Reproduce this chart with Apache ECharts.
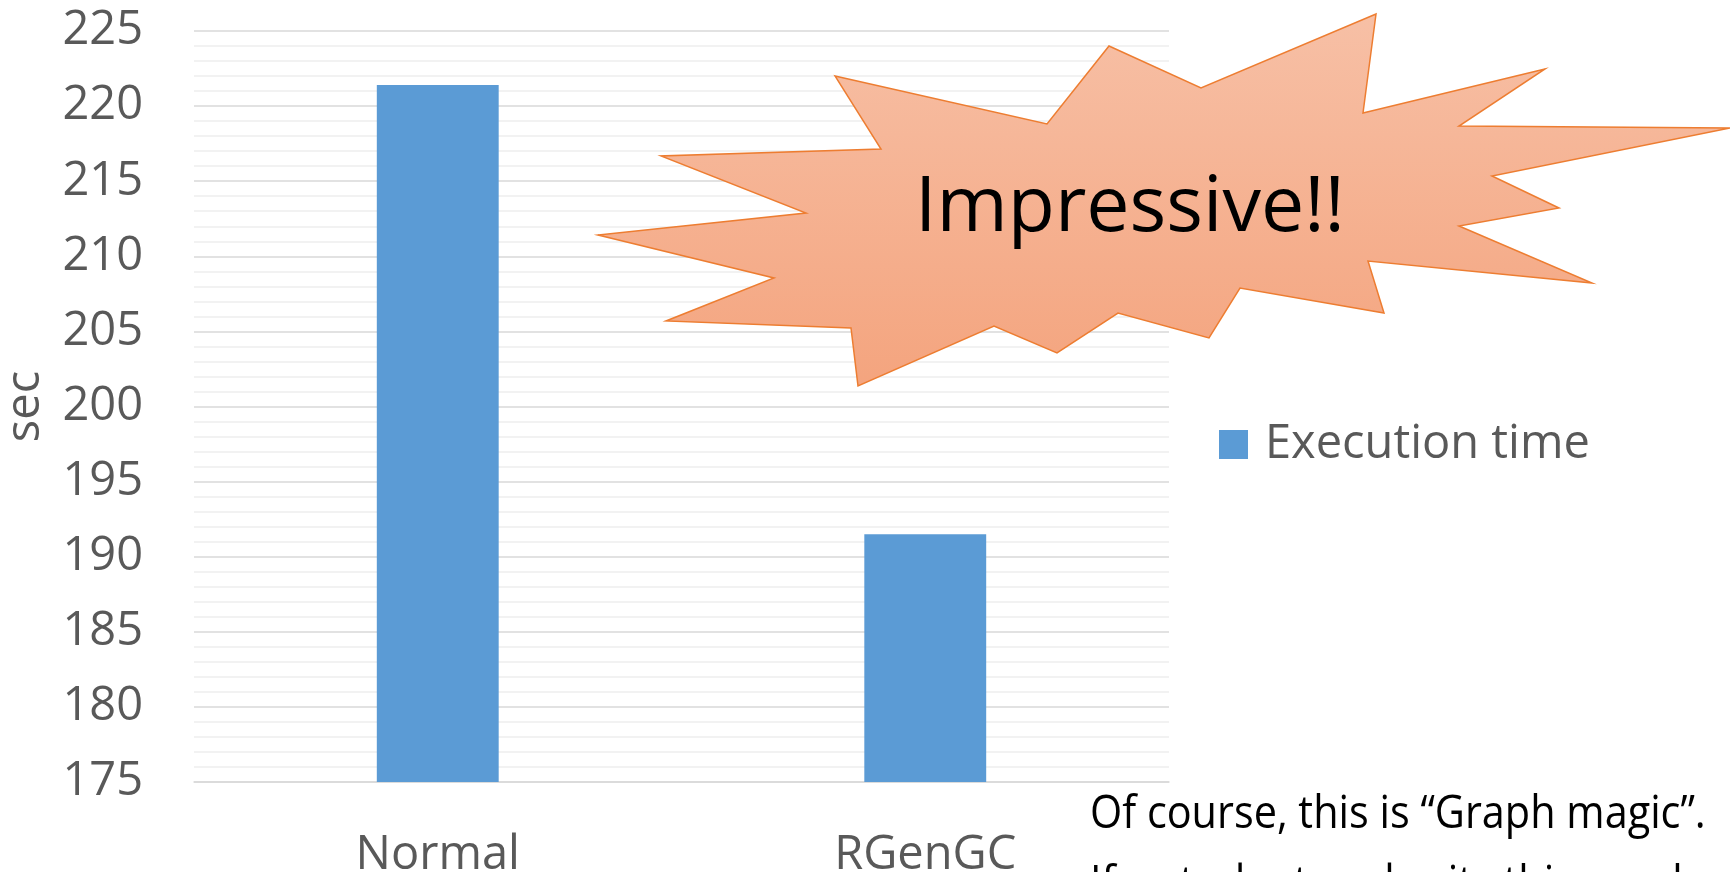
<!DOCTYPE html>
<html>
<head>
<meta charset="utf-8">
<script src="https://cdn.jsdelivr.net/npm/echarts@6/dist/echarts.min.js"></script>
<style>
  html, body { margin: 0; padding: 0; background: #fff; }
  #chart { width: 1730px; height: 872px; }
</style>
</head>
<body>
<div id="chart"></div>
<script>
// Execution time per GC mode (seconds)
const categories = ['Normal', 'RGenGC'];
const seriesName = 'Execution time';
const executionTime = [221.4, 191.5];
const yMin = 175;
const yMax = 225;
const yStep = 5;
const axisTitle = 'sec';
const burstText = 'Impressive!!';
const noteLines = ['Of course, this is \u201cGraph magic\u201d.', 'If a students submits this graph'];

const FONT = '"Open Sans", "Noto Sans", sans-serif';
const GREY = '#595959';

// Outline of the callout burst, in page pixels
const burstOutline = [
  [835, 76], [1047, 124], [1109, 46], [1201, 88], [1376, 14], [1363, 113],
  [1545, 69], [1459, 126], [1730, 128], [1492, 176], [1559, 208], [1459, 226],
  [1592, 283], [1368, 261], [1384, 313], [1240, 288], [1209, 338], [1118, 313],
  [1057, 353], [994, 326], [858, 386], [851, 328], [666, 321], [774, 278],
  [598, 235], [806, 213], [661, 156], [881, 149]
];

const chart = echarts.init(document.getElementById('chart'), null, { renderer: 'canvas' });

chart.setOption({
  animation: false,
  backgroundColor: '#ffffff',
  textStyle: { fontFamily: FONT },
  grid: { left: 194, right: 561, top: 31, bottom: 90, containLabel: false, outerBoundsMode: 'none' },
  legend: {
    data: [seriesName],
    left: 1214,
    top: 416,
    itemWidth: 29,
    itemHeight: 29,
    icon: 'rect',
    textStyle: { fontFamily: FONT, fontSize: 47, color: GREY, padding: [0, 0, 0, 12] }
  },
  xAxis: {
    type: 'category',
    data: categories,
    axisLine: { show: true, lineStyle: { color: '#d9d9d9', width: 1.5 } },
    axisTick: { show: false },
    axisLabel: { fontFamily: FONT, fontSize: 47, color: GREY, margin: 50 },
    splitLine: { show: false }
  },
  yAxis: {
    type: 'value',
    min: yMin,
    max: yMax,
    interval: yStep,
    name: axisTitle,
    nameLocation: 'middle',
    nameRotate: 90,
    nameGap: 145,
    nameTextStyle: { fontFamily: FONT, fontSize: 47, color: GREY },
    axisLine: { show: false },
    axisTick: { show: false },
    axisLabel: { fontFamily: FONT, fontSize: 47, color: GREY, margin: 51 },
    splitLine: { show: true, lineStyle: { color: '#d9d9d9', width: 1.5 } },
    minorTick: { show: false, splitNumber: 5 },
    minorSplitLine: { show: true, lineStyle: { color: '#eeeeee', width: 1.5 } }
  },
  series: [{
    name: seriesName,
    type: 'bar',
    data: executionTime,
    barWidth: '25%',
    itemStyle: { color: '#5B9BD5' }
  }],
  graphic: [
    {
      type: 'polygon',
      z: 100,
      shape: { points: burstOutline },
      style: {
        fill: new echarts.graphic.LinearGradient(0, 0, 0, 1, [
          { offset: 0, color: '#F7C0A6' },
          { offset: 1, color: '#F4A47E' }
        ]),
        stroke: '#ED7D31',
        lineWidth: 1.5
      }
    },
    {
      type: 'text',
      z: 101,
      left: 915,
      top: 171,
      style: {
        text: burstText,
        fontFamily: FONT,
        fontSize: 77,
        fill: '#000000'
      }
    },
    {
      type: 'text',
      z: 101,
      x: 1090,
      y: 780,
      scaleX: 0.92,
      style: {
        text: noteLines.join('\n'),
        fontFamily: FONT,
        fontSize: 45,
        lineHeight: 70,
        fill: '#000000'
      }
    }
  ]
});
</script>
</body>
</html>
